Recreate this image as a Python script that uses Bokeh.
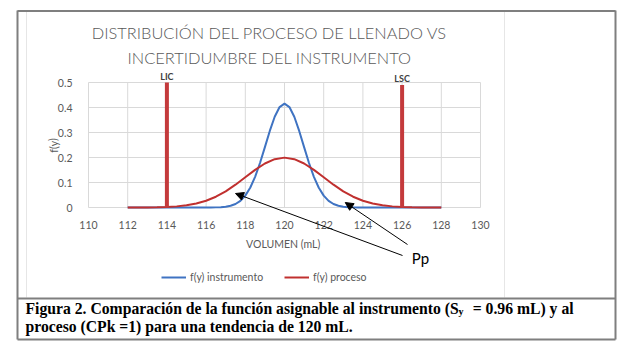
from bokeh.plotting import figure
from bokeh.models import (Range1d, Label, LabelSet, Arrow, NormalHead, Legend, LegendItem,
                          NumeralTickFormatter, ColumnDataSource)
from bokeh.core.properties import value
from bokeh.embed import file_html
from bokeh.resources import INLINE

# ---------------- data ----------------
blue_x = [112, 113, 114, 115, 116, 116.25, 116.5, 116.75, 117, 117.25, 117.5, 117.75,
          118, 118.25, 118.5, 118.75, 119, 119.25, 119.5, 119.75, 120,
          120.25, 120.5, 120.75, 121, 121.25, 121.5, 121.75, 122, 122.25, 122.5,
          122.75, 123, 123.25, 123.5, 123.75, 124, 125, 126, 127, 128]
blue_y = [0, 0, 0, 0, 0.0001, 0.0002, 0.0005, 0.0013, 0.0031, 0.0069, 0.0140, 0.0267,
          0.0474, 0.0789, 0.1226, 0.1780, 0.2416, 0.3063, 0.3629, 0.4017, 0.4156,
          0.4017, 0.3629, 0.3063, 0.2416, 0.1780, 0.1226, 0.0789, 0.0474, 0.0267, 0.0140,
          0.0069, 0.0031, 0.0013, 0.0005, 0.0002, 0.0001, 0, 0, 0, 0]

red_x = [112, 112.5, 113, 113.5, 114, 114.5, 115, 115.5, 116, 116.5, 117, 117.5,
         118, 118.5, 119, 119.5, 120, 120.5, 121, 121.5, 122, 122.5, 123, 123.5,
         124, 124.5, 125, 125.5, 126, 126.5, 127, 127.5, 128]
red_y = [0.0001, 0.0002, 0.0004, 0.0010, 0.0022, 0.0045, 0.0088, 0.0159, 0.0270, 0.0431,
         0.0648, 0.0913, 0.1210, 0.1506, 0.1760, 0.1933, 0.1995, 0.1933, 0.1760, 0.1506,
         0.1210, 0.0913, 0.0648, 0.0431, 0.0270, 0.0159, 0.0088, 0.0045, 0.0022, 0.0010,
         0.0004, 0.0002, 0.0001]

lim_x = [114, 126]
lim_base = [0, 0]
lim_top = [0.5, 0.49]
lim_labels = ["LIC", "LSC"]

x_ticks = [110, 112, 114, 116, 118, 120, 122, 124, 126, 128, 130]
y_ticks = [0, 0.1, 0.2, 0.3, 0.4, 0.5]

series_names = ["f(y) instrumento", "f(y) proceso"]
title_lines = ["DISTRIBUCIÓN DEL PROCESO DE LLENADO VS", "INCERTIDUMBRE DEL INSTRUMENTO"]
x_label = "VOLUMEN  (mL)"
y_label = "f(y)"
pp_text = "Pp"
pp_targets_x = [117.5, 123.1]
pp_targets_y = [0.056, 0.02]
caption_a = "Figura 2. Comparación de la función asignable al instrumento (S"
caption_sub = "y"
caption_b = " = 0.96 mL) y al"
caption_2 = "proceso (CPk =1) para una tendencia de 120 mL."

# ---------------- styling / layout ----------------
BLUE = "#3f73c2"
RED = "#c0302f"
LIMRED = "#c43a3c"
GREY_TXT = "#595959"
GRID = "#d9d9d9"
FONT = "Lato"
TITLE_FONT = "Lato Light, Lato"

W, H = 640, 351
# pixel positions of the plot area inside the picture
PX_L, PX_R, PX_T, PX_B = 88, 480, 82, 207
X0, X1, Y0, Y1 = 110, 130, 0, 0.5
SX = (X1 - X0) / (PX_R - PX_L)
SY = (Y1 - Y0) / (PX_B - PX_T)


def dx(px):
    return X0 + (px - PX_L) * SX


def dy(py):
    return Y0 + (PX_B - py) * SY


p = figure(width=W, height=H, x_range=Range1d(dx(0), dx(W)), y_range=Range1d(dy(H), dy(0)),
           output_backend="svg", toolbar_location=None,
           min_border_left=0, min_border_right=0, min_border_top=0, min_border_bottom=0)
p.outline_line_color = None
p.background_fill_color = "white"
p.border_fill_color = "white"
p.xgrid.visible = False
p.ygrid.visible = False

# grid lines of the plot area (from the tick lists)
p.segment(x0=x_ticks, y0=[Y0] * len(x_ticks), x1=x_ticks, y1=[Y1] * len(x_ticks),
          line_color=GRID, line_width=1)
p.segment(x0=[X0] * len(y_ticks), y0=y_ticks, x1=[X1] * len(y_ticks), y1=y_ticks,
          line_color=GRID, line_width=1)

for ax in (p.xaxis[0], p.yaxis[0]):
    ax.axis_line_color = None
    ax.major_tick_line_color = None
    ax.minor_tick_line_color = None
    ax.major_label_text_font = FONT
    ax.major_label_text_font_size = "10.5px"
    ax.major_label_text_color = GREY_TXT
    ax.axis_label_text_font = FONT
    ax.axis_label_text_font_size = "10.5px"
    ax.axis_label_text_font_style = "normal"
    ax.axis_label_text_color = GREY_TXT

p.xaxis.fixed_location = Y0
p.yaxis.fixed_location = X0
p.xaxis.bounds = (X0, X1)
p.yaxis.bounds = (Y0, Y1)
p.xaxis.ticker = x_ticks
p.yaxis.ticker = y_ticks
p.yaxis.formatter = NumeralTickFormatter(format="0.[0]")
p.xaxis.major_label_standoff = 7
p.yaxis.major_label_standoff = 10
p.xaxis.axis_label = x_label
p.xaxis.axis_label_standoff = 6

# y axis title placed beside the tick labels
p.add_layout(Label(x=dx(53), y=dy(145), text=y_label, angle=1.5708, text_align="center",
                   text_baseline="middle", text_font=FONT, text_font_size="10.5px",
                   text_color=GREY_TXT))

# curves
r_blue = p.line(blue_x, blue_y, line_color=BLUE, line_width=2)
r_red = p.line(red_x, red_y, line_color=RED, line_width=2)

# limits
p.segment(x0=lim_x, y0=lim_base, x1=lim_x, y1=lim_top, line_color=LIMRED, line_width=4,
          line_cap="butt")
lim_src = ColumnDataSource(dict(x=lim_x, y=lim_top, t=lim_labels))
p.add_layout(LabelSet(x="x", y="y", text="t", source=lim_src, text_align="center",
                      text_baseline="bottom", y_offset=1, text_font=value(FONT),
                      text_font_size=value("9px"), text_font_style="bold",
                      text_color="#404040"))

# legend (location in pixels from bottom-left of the drawing area)
legend = Legend(items=[LegendItem(label=series_names[0], renderers=[r_blue]),
                       LegendItem(label=series_names[1], renderers=[r_red])],
                location=(161, H - 277 - 6), orientation="horizontal",
                border_line_color=None, background_fill_alpha=0, padding=0, margin=0,
                spacing=21, glyph_width=25, glyph_height=12, label_height=12,
                label_standoff=4, label_text_font=FONT, label_text_font_size="10.5px",
                label_text_color=GREY_TXT)
p.add_layout(legend)

# title
title_y = [32, 57]
for t, ty in zip(title_lines, title_y):
    p.add_layout(Label(x=dx(269), y=dy(ty), text=t, text_align="center",
                       text_baseline="middle", text_font=TITLE_FONT, text_font_size="16.4px",
                       text_color=GREY_TXT))

# Pp annotation and arrows
pp_x, pp_y = dx(420), dy(257)
p.add_layout(Label(x=pp_x, y=pp_y, text=pp_text, text_align="center", text_baseline="middle",
                   text_font=FONT, text_font_size="15px", text_color="black"))
tails = [(dx(402), dy(255)), (dx(407), dy(244))]
for (tx, ty), hx, hy in zip(tails, pp_targets_x, pp_targets_y):
    p.add_layout(Arrow(x_start=tx, y_start=ty, x_end=hx, y_end=hy, line_color="black",
                       line_width=1,
                       end=NormalHead(size=8, fill_color="black", line_color="black",
                                      line_width=1)))

# picture frame lines
frame_h = [(17, 615, 10.5), (17, 615, 339), (17, 615, 298)]
frame_v = [(17, 10, 339), (615, 10, 339)]
light_v = [(26, 11, 297), (504, 11, 297)]
p.segment(x0=[dx(a) for a, b, c in light_v], y0=[dy(b) for a, b, c in light_v],
          x1=[dx(a) for a, b, c in light_v], y1=[dy(c) for a, b, c in light_v],
          line_color="#e6e6e6", line_width=1)
p.segment(x0=[dx(a) for a, b, c in frame_h], y0=[dy(c) for a, b, c in frame_h],
          x1=[dx(b) for a, b, c in frame_h], y1=[dy(c) for a, b, c in frame_h],
          line_color="#7f7f7f", line_width=2)
p.segment(x0=[dx(a) for a, b, c in frame_v], y0=[dy(b) for a, b, c in frame_v],
          x1=[dx(a) for a, b, c in frame_v], y1=[dy(c) for a, b, c in frame_v],
          line_color="#7f7f7f", line_width=2)

# caption
CAP = dict(text_font="Liberation Serif", text_font_style="bold", text_color="black",
           text_baseline="middle")
p.add_layout(Label(x=dx(25), y=dy(308), text=caption_a, text_align="left",
                   text_font_size="15.7px", **CAP))
p.add_layout(Label(x=dx(458), y=dy(311), text=caption_sub, text_align="left",
                   text_font_size="10px", **CAP))
p.add_layout(Label(x=dx(577), y=dy(308), text=caption_b, text_align="right",
                   text_font_size="15.7px", **CAP))
p.add_layout(Label(x=dx(25), y=dy(326), text=caption_2, text_align="left",
                   text_font_size="15.7px", **CAP))

open("out.html", "w").write(file_html(p, INLINE))
